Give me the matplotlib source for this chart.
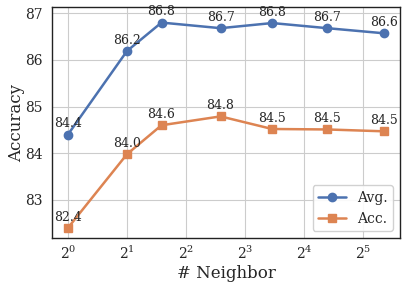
import matplotlib
matplotlib.use("Agg")
import matplotlib.pyplot as plt
import seaborn as sns

# ------------------------------------------------------------
# Data
# ------------------------------------------------------------

NEIGHBORS = [1, 2, 3, 6, 11, 21, 41]
AVG = [84.4, 86.2, 86.8, 86.7, 86.8, 86.7, 86.6]
ACC = [82.4, 84.0, 84.6, 84.8, 84.5, 84.5, 84.5]
# exact plotted positions (labels are rounded)
AVG_POS = [84.40, 86.19, 86.80, 86.68, 86.79, 86.68, 86.57]
ACC_POS = [82.40, 83.98, 84.60, 84.79, 84.52, 84.51, 84.47]

X_TICKS = [1, 2, 4, 8, 16, 32]
X_TICK_LABELS = [r"$2^{0}$", r"$2^{1}$", r"$2^{2}$", r"$2^{3}$", r"$2^{4}$", r"$2^{5}$"]

# ------------------------------------------------------------
# Plot
# ------------------------------------------------------------

sns.set_style("whitegrid")
plt.rcParams["font.family"] = ["DejaVu Serif"]
plt.rcParams["mathtext.fontset"] = "dejavuserif"

blue = "#4c72b0"
orange = "#dd8452"

fig, ax = plt.subplots(figsize=(4.07, 2.87), dpi=100)

ax.plot(NEIGHBORS, AVG_POS, color=blue, marker="o", markersize=6,
        linewidth=1.8, label="Avg.")
ax.plot(NEIGHBORS, ACC_POS, color=orange, marker="s", markersize=6,
        linewidth=1.8, label="Acc.")

for x, y, v in zip(NEIGHBORS, AVG_POS, AVG):
    ax.annotate(f"{v:.1f}", (x, y), xytext=(0, 3), textcoords="offset points",
                ha="center", va="bottom", fontsize=9)
for x, y, v in zip(NEIGHBORS, ACC_POS, ACC):
    ax.annotate(f"{v:.1f}", (x, y), xytext=(0, 3), textcoords="offset points",
                ha="center", va="bottom", fontsize=9)

ax.set_xscale("log", base=2)
ax.set_xticks(X_TICKS)
ax.set_xticklabels(X_TICK_LABELS)
ax.minorticks_off()
ax.set_ylim(82.18, 87.13)
ax.set_yticks([83, 84, 85, 86, 87])

ax.tick_params(axis="x", labelsize=10, length=0, pad=5)
ax.tick_params(axis="y", labelsize=10, length=0, pad=7)
ax.set_xlabel("# Neighbor", fontsize=12, labelpad=2)
ax.set_ylabel("Accuracy", fontsize=12, labelpad=0)

for spine in ax.spines.values():
    spine.set_color("#222222")
    spine.set_linewidth(1.0)

ax.legend(loc="lower right", fontsize=10, frameon=True, framealpha=0.9)

fig.subplots_adjust(left=0.128, right=0.983, top=0.975, bottom=0.17)
fig.savefig("out.png", dpi=100)
